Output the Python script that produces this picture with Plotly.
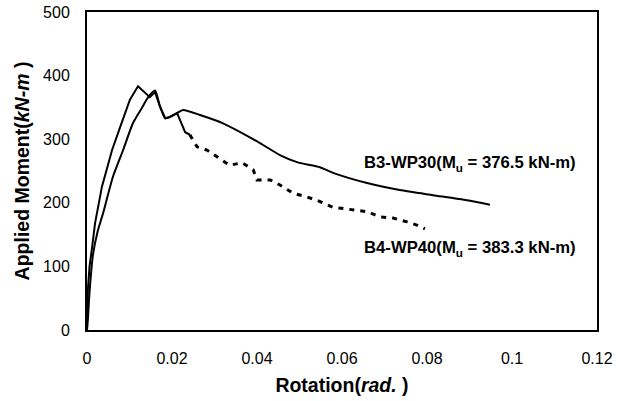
import plotly.graph_objects as go

# B3-WP30 (solid curve)
b3_rot = [0, 0.0002, 0.0006, 0.0014, 0.0025, 0.0038, 0.0061, 0.0085, 0.0108, 0.0129, 0.0144, 0.016,
          0.0172, 0.0184, 0.0195, 0.0212, 0.0226, 0.0266, 0.032, 0.0407, 0.0454, 0.0494,
          0.0548, 0.0579, 0.0659, 0.0736, 0.0814, 0.0894, 0.0948]
b3_mom = [0, 16, 60, 118, 155, 184, 241, 283, 325, 349, 366, 376.5,
          351, 333, 335, 341, 346, 338, 325, 294, 275, 264,
          256, 247, 231, 220, 212, 204, 197]

# B4-WP40 (initial continuous part)
b4_rot = [0, 0.0, 0.0002, 0.0006, 0.0012, 0.0019, 0.0035, 0.0059, 0.0078, 0.0101, 0.012,
          0.0136, 0.0148, 0.016, 0.0172, 0.0184, 0.0195, 0.0212, 0.0219, 0.0231, 0.0242]
b4_mom = [0, 20, 63, 100, 130, 168, 225, 283, 319, 362, 383.3,
          373, 366, 374, 351, 333, 335, 341, 330, 311, 307]

# B4-WP40 (broken descending part)
b4b_rot = [0.0242, 0.0259, 0.0282, 0.0306, 0.0336, 0.0365, 0.0391, 0.04, 0.0431, 0.0454,
           0.0485, 0.0518, 0.0541, 0.0579, 0.0619, 0.0659, 0.0689, 0.072, 0.0753, 0.0776, 0.0795]
b4b_mom = [307, 288, 283, 272, 259, 263, 252, 236, 236, 228,
           215, 209, 204, 193, 189, 186, 178, 176, 170, 165, 159]

x_ticks = [0, 0.02, 0.04, 0.06, 0.08, 0.1, 0.12]
x_labels = ["0", "0.02", "0.04", "0.06", "0.08", "0.1", "0.12"]
y_ticks = [0, 100, 200, 300, 400, 500]

fig = go.Figure()
fig.add_trace(go.Scatter(x=b3_rot, y=b3_mom, mode="lines",
                         line=dict(color="black", width=2, shape="spline", smoothing=0.6),
                         showlegend=False))
fig.add_trace(go.Scatter(x=b4_rot, y=b4_mom, mode="lines",
                         line=dict(color="black", width=2), showlegend=False))
fig.add_trace(go.Scatter(x=b4b_rot, y=b4b_mom, mode="lines",
                         line=dict(color="black", width=3, dash="5px,6px"), showlegend=False))

fig.add_annotation(x=0.0648, y=262, xref="x", yref="y", xanchor="left", yanchor="middle",
                   text="<b>B3-WP30(M<sub>u</sub> = 376.5 kN-m)</b>", showarrow=False,
                   font=dict(family="Arial, Liberation Sans", size=16.7, color="black"))
fig.add_annotation(x=0.0648, y=128, xref="x", yref="y", xanchor="left", yanchor="middle",
                   text="<b>B4-WP40(M<sub>u</sub> = 383.3 kN-m)</b>", showarrow=False,
                   font=dict(family="Arial, Liberation Sans", size=16.7, color="black"))

fig.update_layout(
    width=627, height=401,
    margin=dict(l=87, r=30, t=12, b=71),
    paper_bgcolor="white", plot_bgcolor="white",
    font=dict(family="Arial, Liberation Sans", color="black"),
)
fig.update_xaxes(range=[0, 0.12], tickvals=x_ticks, ticktext=x_labels, automargin=False,
                 showgrid=False, zeroline=False, showline=True, linecolor="black",
                 linewidth=2, mirror=True, ticks="", ticklabelstandoff=13,
                 tickfont=dict(size=16),
                 title=dict(text="<b>Rotation(<i>rad.</i> )</b>", font=dict(size=19.5), standoff=12))
fig.update_yaxes(range=[0, 500], tickvals=y_ticks, automargin=False,
                 showgrid=False, zeroline=False, showline=True, linecolor="black",
                 linewidth=2, mirror=True, ticks="", ticklabelstandoff=12,
                 tickfont=dict(size=16),
                 title=dict(text="<b>Applied Moment(<i>kN-m</i> )</b>", font=dict(size=19.5), standoff=8))

fig.write_html("out.html", config={"displayModeBar": False},
               post_script="document.body.style.margin='0';")
